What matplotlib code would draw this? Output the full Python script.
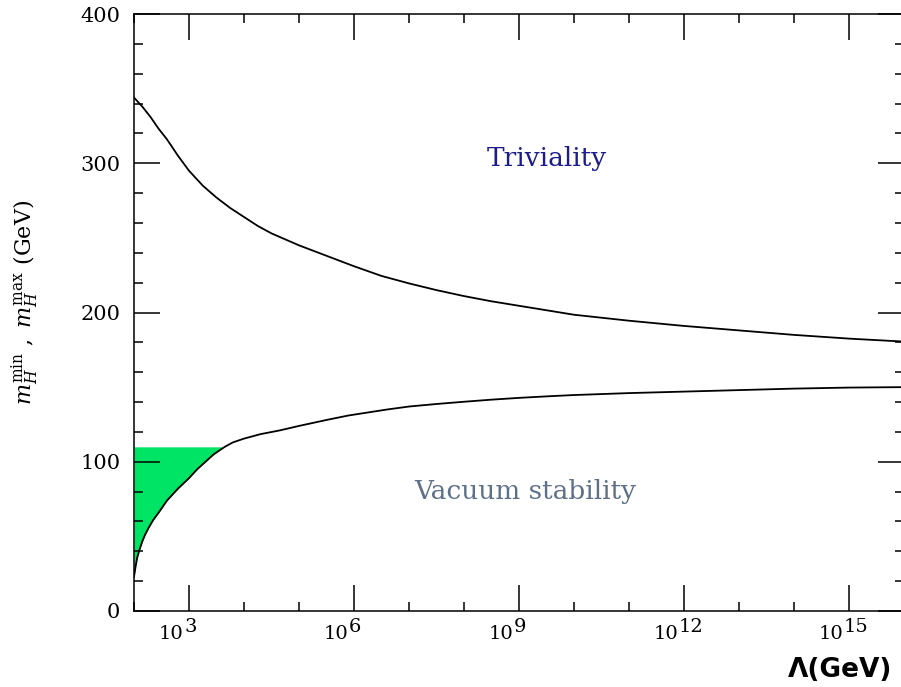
import matplotlib.pyplot as plt
import numpy as np
from matplotlib.ticker import FixedLocator, MultipleLocator, NullFormatter

# upper (triviality) bound on the Higgs mass, log10(Lambda/GeV) vs GeV
log_lam_up = [2.0, 2.15, 2.3, 2.45, 2.6, 2.8, 3.0, 3.25, 3.5, 3.75, 4.0, 4.25,
              4.5, 5.0, 5.5, 6.0, 6.5, 7.0, 7.5, 8.0, 8.5, 9.0,
              10.0, 11.0, 12.0, 13.0, 14.0, 15.0, 16.0]
m_up = [344, 338, 331, 323, 316, 305, 295, 285, 277, 270, 264, 258,
        253, 245, 238, 231, 224.5, 219.5, 215, 211, 207.5, 204.5,
        198.5, 194.5, 191, 188, 185, 182.5, 180.5]

# lower (vacuum stability) bound
log_lam_low = [2.0, 2.03, 2.06, 2.1, 2.15, 2.2, 2.27, 2.35, 2.45, 2.6, 2.8, 3.0,
               3.15, 3.3, 3.45, 3.65, 3.8, 4.0, 4.3, 4.65, 5.0, 5.5, 5.9,
               6.25, 6.6, 7.0, 7.5, 8.0, 8.5, 9.0, 9.5, 10.0, 11.0, 12.0,
               13.0, 14.0, 15.0, 16.0]
m_low = [23, 30, 36, 41, 46.5, 51, 56, 61, 66, 74, 82, 89,
         95, 100, 105, 110, 113, 115.5, 118.5, 121, 124, 128, 131,
         133, 135, 137, 138.7, 140.2, 141.6, 142.8, 143.8, 144.7, 146, 147,
         148, 149, 149.7, 150]

# LEP limit shading level
m_lep = 110

major_exps = [3, 6, 9, 12, 15]

plt.rcParams['font.family'] = 'DejaVu Serif'
plt.rcParams['mathtext.fontset'] = 'dejavuserif'

fig = plt.figure(figsize=(9.01, 6.87), dpi=100)
ax = fig.add_axes([134 / 901, 76 / 687, 770 / 901, 597 / 687])

lam_up = 10.0 ** np.array(log_lam_up)
lam_low = 10.0 ** np.array(log_lam_low)
m_low_arr = np.array(m_low, dtype=float)

ax.fill_between(lam_low, m_low_arr, m_lep, where=m_low_arr <= m_lep,
                interpolate=True, color='#00e466', linewidth=0)
ax.plot(lam_up, m_up, color='black', lw=1.3)
ax.plot(lam_low, m_low, color='black', lw=1.3)

ax.set_xscale('log')
ax.set_xlim(1e2, 1e16)
ax.set_ylim(0, 400)

ax.xaxis.set_major_locator(FixedLocator([10.0 ** e for e in major_exps]))
ax.xaxis.set_minor_locator(FixedLocator([10.0 ** e for e in range(2, 17)]))
ax.xaxis.set_major_formatter(NullFormatter())
ax.xaxis.set_minor_formatter(NullFormatter())
ax.yaxis.set_major_locator(MultipleLocator(100))
ax.yaxis.set_minor_locator(MultipleLocator(20))

ax.tick_params(which='both', direction='in', top=True, right=True, width=1.1)
ax.tick_params(which='major', length=19)
ax.tick_params(which='minor', length=6.5)
ax.tick_params(axis='y', labelsize=15, pad=10)
for s in ax.spines.values():
    s.set_linewidth(1.1)

# x tick labels: "10" with a large exponent sitting beside it
tr = ax.get_xaxis_transform()
for e in major_exps:
    ax.annotate('10', xy=(10.0 ** e, 0), xycoords=tr, xytext=(-6, -23),
                textcoords='offset pixels', ha='right', va='center', fontsize=14)
    ax.annotate(str(e), xy=(10.0 ** e, 0), xycoords=tr, xytext=(-5, -16),
                textcoords='offset pixels', ha='left', va='center', fontsize=14)

ax.text(10 ** 9.5, 303, 'Triviality', color='#1c1c8c', fontsize=19,
        ha='center', va='center')
ax.text(10 ** 9.11, 80, 'Vacuum stability', color='#5e7089', fontsize=19,
        ha='center', va='center')

fig.text(25 / 901, 1 - 302 / 687,
         r'$m_H^{\rm min}\ ,\ m_H^{\rm max}$ (GeV)',
         rotation=90, ha='center', va='center', fontsize=16)
fig.text(892 / 901, 1 - 670 / 687, 'Λ(GeV)', family='DejaVu Sans',
         fontweight='bold', fontsize=19, ha='right', va='center')

fig.savefig('out.png', dpi=100)
